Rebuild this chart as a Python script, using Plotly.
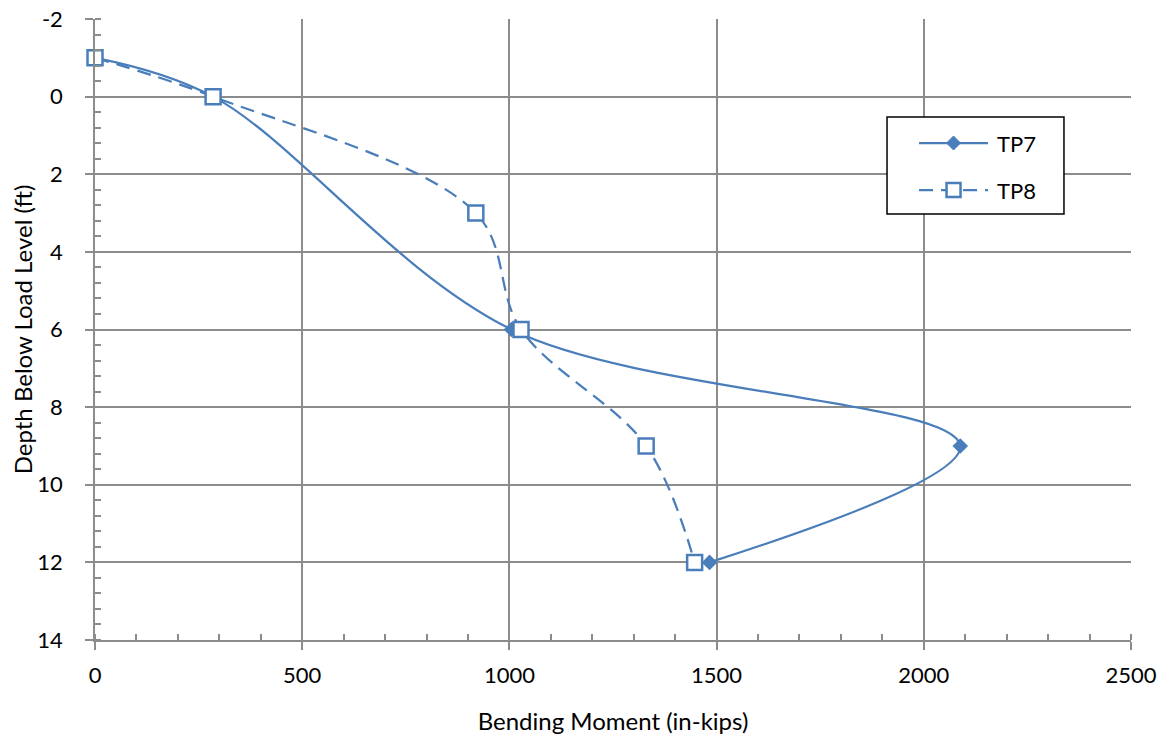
import plotly.graph_objects as go

tp7_depth = [-1, 0, 6, 9, 12]
tp7_moment = [0, 285, 1005, 2088, 1483]
tp8_depth = [-1, 0, 3, 6, 9, 12]
tp8_moment = [0, 285, 919, 1028, 1330, 1447]

x_ticks = [0, 500, 1000, 1500, 2000, 2500]
y_ticks = [-2, 0, 2, 4, 6, 8, 10, 12, 14]
y_tick_text = ["-2", "0", "2", "4", "6", "8", "10", "12", "14"]

color = "#4A7EBB"
font_family = "Lato, 'Open Sans', sans-serif"
dash_style = "14px,8px"

fig = go.Figure()
fig.add_trace(go.Scatter(
    x=tp7_moment, y=tp7_depth, name="TP7", mode="lines+markers", showlegend=False,
    cliponaxis=False,
    line=dict(color=color, width=2.25, shape="spline", smoothing=1.0),
    marker=dict(symbol="diamond", size=12, color=color),
))
fig.add_trace(go.Scatter(
    x=tp8_moment, y=tp8_depth, name="TP8", mode="lines+markers", showlegend=False,
    cliponaxis=False,
    line=dict(color=color, width=2.25, shape="spline", smoothing=1.0, dash=dash_style),
    marker=dict(symbol="square", size=15, color="white", line=dict(width=2.5, color=color)),
))

# legend drawn manually (paper coordinates of the plot area)
lx0, lx1, ly0, ly1 = 0.7645, 0.9353, 0.686, 0.842
row1, row2 = 0.8003, 0.7246
sx0, sx1, smid, tx = 0.7954, 0.862, 0.8287, 0.8687
shapes = [
    dict(type="rect", xref="paper", yref="paper", x0=lx0, x1=lx1, y0=ly0, y1=ly1,
         line=dict(color="black", width=1.5), fillcolor="white", layer="above"),
    dict(type="line", xref="paper", yref="paper", x0=sx0, x1=sx1, y0=row1, y1=row1,
         line=dict(color=color, width=2.25), layer="above"),
    dict(type="line", xref="paper", yref="paper", x0=sx0, x1=sx1, y0=row2, y1=row2,
         line=dict(color=color, width=2.25, dash=dash_style), layer="above"),
    dict(type="path", xref="paper", yref="paper", xsizemode="pixel", ysizemode="pixel",
         xanchor=smid, yanchor=row1, path="M -7 0 L 0 7 L 7 0 L 0 -7 Z",
         fillcolor=color, line=dict(color=color, width=1), layer="above"),
    dict(type="rect", xref="paper", yref="paper", xsizemode="pixel", ysizemode="pixel",
         xanchor=smid, yanchor=row2, x0=-7, x1=7, y0=-7, y1=7,
         fillcolor="white", line=dict(color=color, width=2.5), layer="above"),
]
annotations = [
    dict(text="TP7", xref="paper", yref="paper", x=tx, y=row1, xanchor="left", yanchor="middle",
         showarrow=False, font=dict(size=22, family=font_family, color="black")),
    dict(text="TP8", xref="paper", yref="paper", x=tx, y=row2, xanchor="left", yanchor="middle",
         showarrow=False, font=dict(size=22, family=font_family, color="black")),
]

grid = "#8C8C8C"
fig.update_layout(
    width=1157, height=732,
    margin=dict(l=87, r=34, t=11, b=100),
    paper_bgcolor="white", plot_bgcolor="white",
    font=dict(family=font_family, size=22, color="black"),
    showlegend=False,
    shapes=shapes, annotations=annotations,
    xaxis=dict(
        range=[0, 2500], tickvals=x_ticks, automargin=False,
        showgrid=True, gridcolor=grid, gridwidth=1.5,
        showline=True, linecolor=grid, linewidth=1.5,
        ticks="outside", ticklen=8, tickcolor=grid, tickwidth=1.5,
        minor=dict(ticks="inside", ticklen=6, dtick=100, tickcolor=grid, showgrid=False),
        zeroline=False, ticklabelstandoff=7, ticklabeloverflow="allow",
        title=dict(text="Bending Moment (in-kips)", standoff=26, font=dict(size=24)),
        tickfont=dict(size=22),
    ),
    yaxis=dict(
        range=[14, -2], tickvals=y_ticks, ticktext=y_tick_text, automargin=False,
        showgrid=True, gridcolor=grid, gridwidth=1.5,
        showline=True, linecolor=grid, linewidth=1.5,
        ticks="outside", ticklen=8, tickcolor=grid, tickwidth=1.5,
        minor=dict(ticks="inside", ticklen=6, dtick=0.4, tickcolor=grid, showgrid=False),
        zeroline=False, ticklabelstandoff=18, ticklabeloverflow="allow",
        title=dict(text="Depth Below Load Level (ft)", standoff=14, font=dict(size=24)),
        tickfont=dict(size=22),
    ),
)

fig.write_html("out.html")
